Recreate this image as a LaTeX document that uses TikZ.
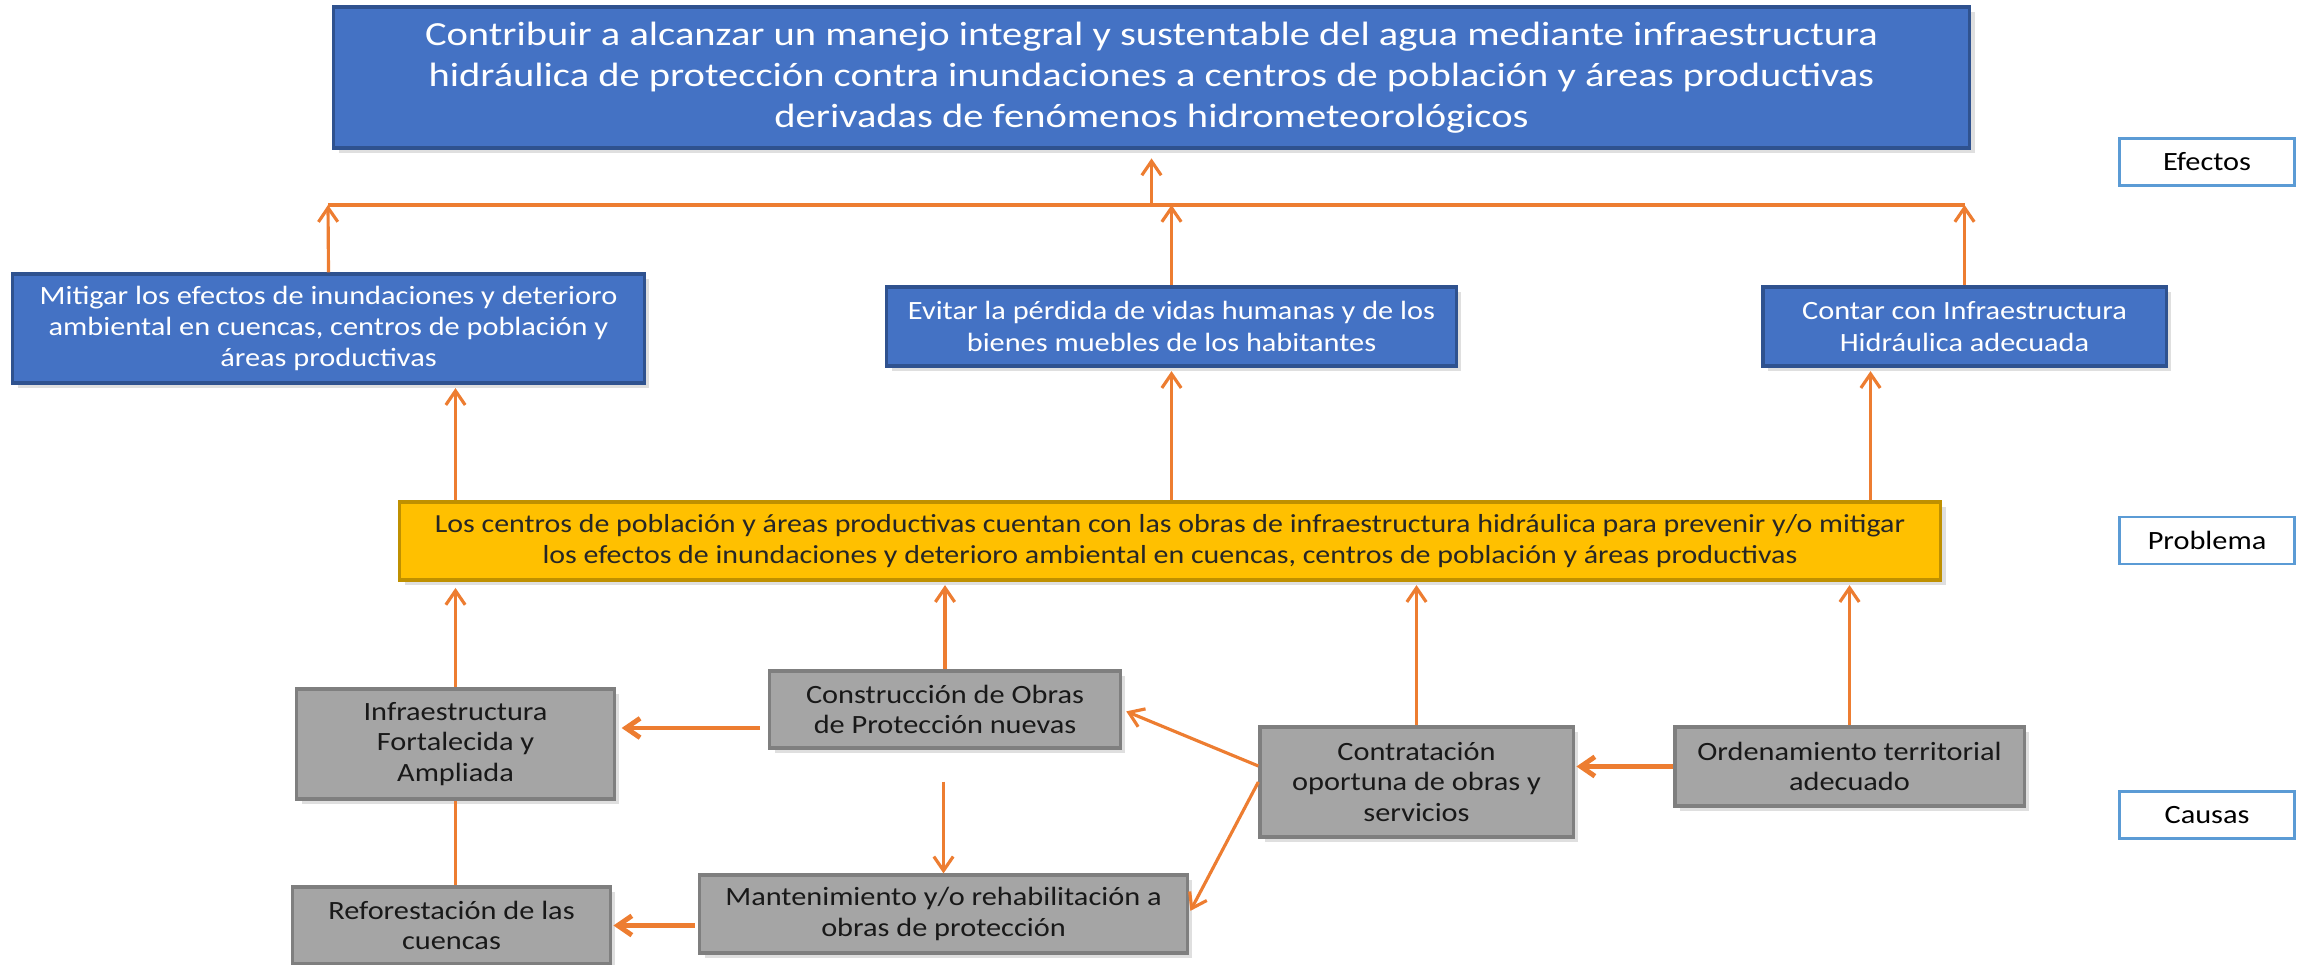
\documentclass[tikz,border=0pt]{standalone}
\usepackage{fontspec}
\setmainfont{Carlito}[FakeStretch=1.15]
\newfontfamily\finfont{Carlito}[FakeStretch=1.2]
\usetikzlibrary{positioning,calc,arrows.meta,shadows}
\definecolor{azul}{HTML}{4472C4}
\definecolor{azulborde}{HTML}{2F528F}
\definecolor{naranja}{HTML}{ED7D31}
\definecolor{amarillo}{HTML}{FFC000}
\definecolor{amarilloborde}{HTML}{BF9000}
\definecolor{gris}{HTML}{A5A5A5}
\definecolor{grisborde}{HTML}{7F7F7F}
\definecolor{celeste}{HTML}{5B9BD5}

\begin{document}
\begin{tikzpicture}[x=0.01cm,y=-0.01cm,
        caja/.style={draw,line width=0.9pt,align=center,inner sep=0pt,
            drop shadow={shadow xshift=1.5pt,shadow yshift=-1.5pt,opacity=0.25}},
        fin/.style={caja,fill=azul,draw=azulborde,text=white,font=\finfont\fontsize{9.6}{11.7}\selectfont},
        efecto/.style={caja,fill=azul,draw=azulborde,text=white,font=\fontsize{7.5}{8.9}\selectfont},
        problema/.style={caja,fill=amarillo,draw=amarilloborde,text=black!85,font=\fontsize{7.4}{8.6}\selectfont},
        causa/.style={caja,fill=gris,draw=grisborde,text=black!90,font=\fontsize{7.5}{8.7}\selectfont},
        etiqueta/.style={draw=celeste,line width=0.7pt,fill=white,font=\fontsize{7.5}{9}\selectfont,
            minimum width=1.75cm,minimum height=0.47cm},
        linea/.style={naranja,line width=0.9pt},
        flecha/.style={linea,->,>={Straight Barb[length=4pt,width=5.5pt]}},
        flechag/.style={flecha,line width=1.4pt}]
        \useasboundingbox (0,0) rectangle (2298,965);
        \node [fin,minimum width=16.35cm,minimum height=1.41cm] (fin) at (1151.5,77.5)
            {Contribuir a alcanzar un manejo integral y sustentable del agua mediante infraestructura\\
             hidráulica de protección contra inundaciones a centros de población y áreas productivas\\
             derivadas de fenómenos hidrometeorológicos};
        \node [efecto,minimum width=6.31cm,minimum height=1.09cm] (E1) at (328.5,328.5)
            {Mitigar los efectos de inundaciones y deterioro\\ ambiental en cuencas, centros de población y\\ áreas productivas};
        \node [efecto,minimum width=5.69cm,minimum height=0.79cm] (E2) at (1171.5,326.5)
            {Evitar la pérdida de vidas humanas y de los\\ bienes muebles de los habitantes};
        \node [efecto,minimum width=4.03cm,minimum height=0.79cm] (E3) at (1964.5,326.5)
            {Contar con Infraestructura\\ Hidráulica adecuada};
        \node [problema,minimum width=15.40cm,minimum height=0.78cm] (P) at (1170,541)
            {Los centros de población y áreas productivas cuentan con las obras de infraestructura hidráulica para prevenir y/o mitigar\\
             los efectos de inundaciones y deterioro ambiental en cuencas, centros de población y áreas productivas};
        \node [causa,minimum width=3.17cm,minimum height=1.10cm] (C1) at (455.5,744) {Infraestructura\\ Fortalecida y\\ Ampliada};
        \node [causa,minimum width=3.50cm,minimum height=0.77cm] (C2) at (945,709.5) {Construcción de Obras\\ de Protección nuevas};
        \node [causa,minimum width=3.13cm,minimum height=1.10cm] (C3) at (1416.5,782) {Contratación\\ oportuna de obras y\\ servicios};
        \node [causa,minimum width=4.87cm,minimum height=0.78cm] (C4) at (943.5,914) {Mantenimiento y/o rehabilitación a\\ obras de protección};
        \node [causa,minimum width=3.17cm,minimum height=0.77cm] (C5) at (451.5,925.5) {Reforestación de las\\ cuencas};
        \node [causa,minimum width=3.49cm,minimum height=0.79cm] (C6) at (1849.5,766.5) {Ordenamiento territorial\\ adecuado};
        \node [etiqueta] (efectos) at (2207,162) {Efectos};
        \node [etiqueta] (problema) at (2207,540.5) {Problema};
        \node [etiqueta] (causas) at (2207,815) {Causas};
        \coordinate (izq) at (328,205);
        \coordinate (der) at (E3.north |- izq);
        \draw [flecha] (E1.north) -- (izq);
        \draw [flecha] (E2.north) -- (E2.north |- izq);
        \draw [flecha] (E3.north) -- (der);
        \draw [linea] (izq) -- (der);
        \draw [flecha,shorten >=2.5pt] (fin.south |- izq) -- (fin.south);
        \draw [flecha,shorten >=1pt] (P.north -| C1.north) -- (E1.south -| C1.north);
        \draw [flecha,shorten >=1pt] (P.north -| E2.south) -- (E2.south);
        \draw [flecha,shorten >=1pt] ($(P.north -| E3.south)+(-94,0)$) -- ($(E3.south)+(-94,0)$);
        \draw [flecha,shorten >=1.8pt] (C1.north) -- (C1.north |- P.south);
        \draw [flecha,shorten >=1pt] (C2.north) -- (C2.north |- P.south);
        \draw [flecha,shorten >=1pt] (C3.north) -- (C3.north |- P.south);
        \draw [flecha,shorten >=1pt] (C6.north) -- (C6.north |- P.south);
        \draw [flechag,shorten <=2.3pt,shorten >=1.7pt] ($(C2.west)+(0,18.5)$) -- ($(C1.east |- C2.west)+(0,18.5)$);
        \draw [flecha] ($(C4.north |- C2.south)+(0,32)$) -- (C4.north);
        \draw [linea] (C1.south) -- (C1.south |- C5.north);
        \draw [flechag,shorten <=1pt,shorten >=0.5pt] (C4.west |- C5.east) -- (C5.east);
        \draw [flechag,shorten >=0.5pt] (C6.west) -- (C3.east |- C6.west);
        \draw [flecha,shorten >=1.4pt] ($(C3.west)+(0,-16)$) -- (C2.east);
        \draw [flecha,shorten >=1pt] (C3.west) -- (C4.east);
    \end{tikzpicture}
\end{document}
